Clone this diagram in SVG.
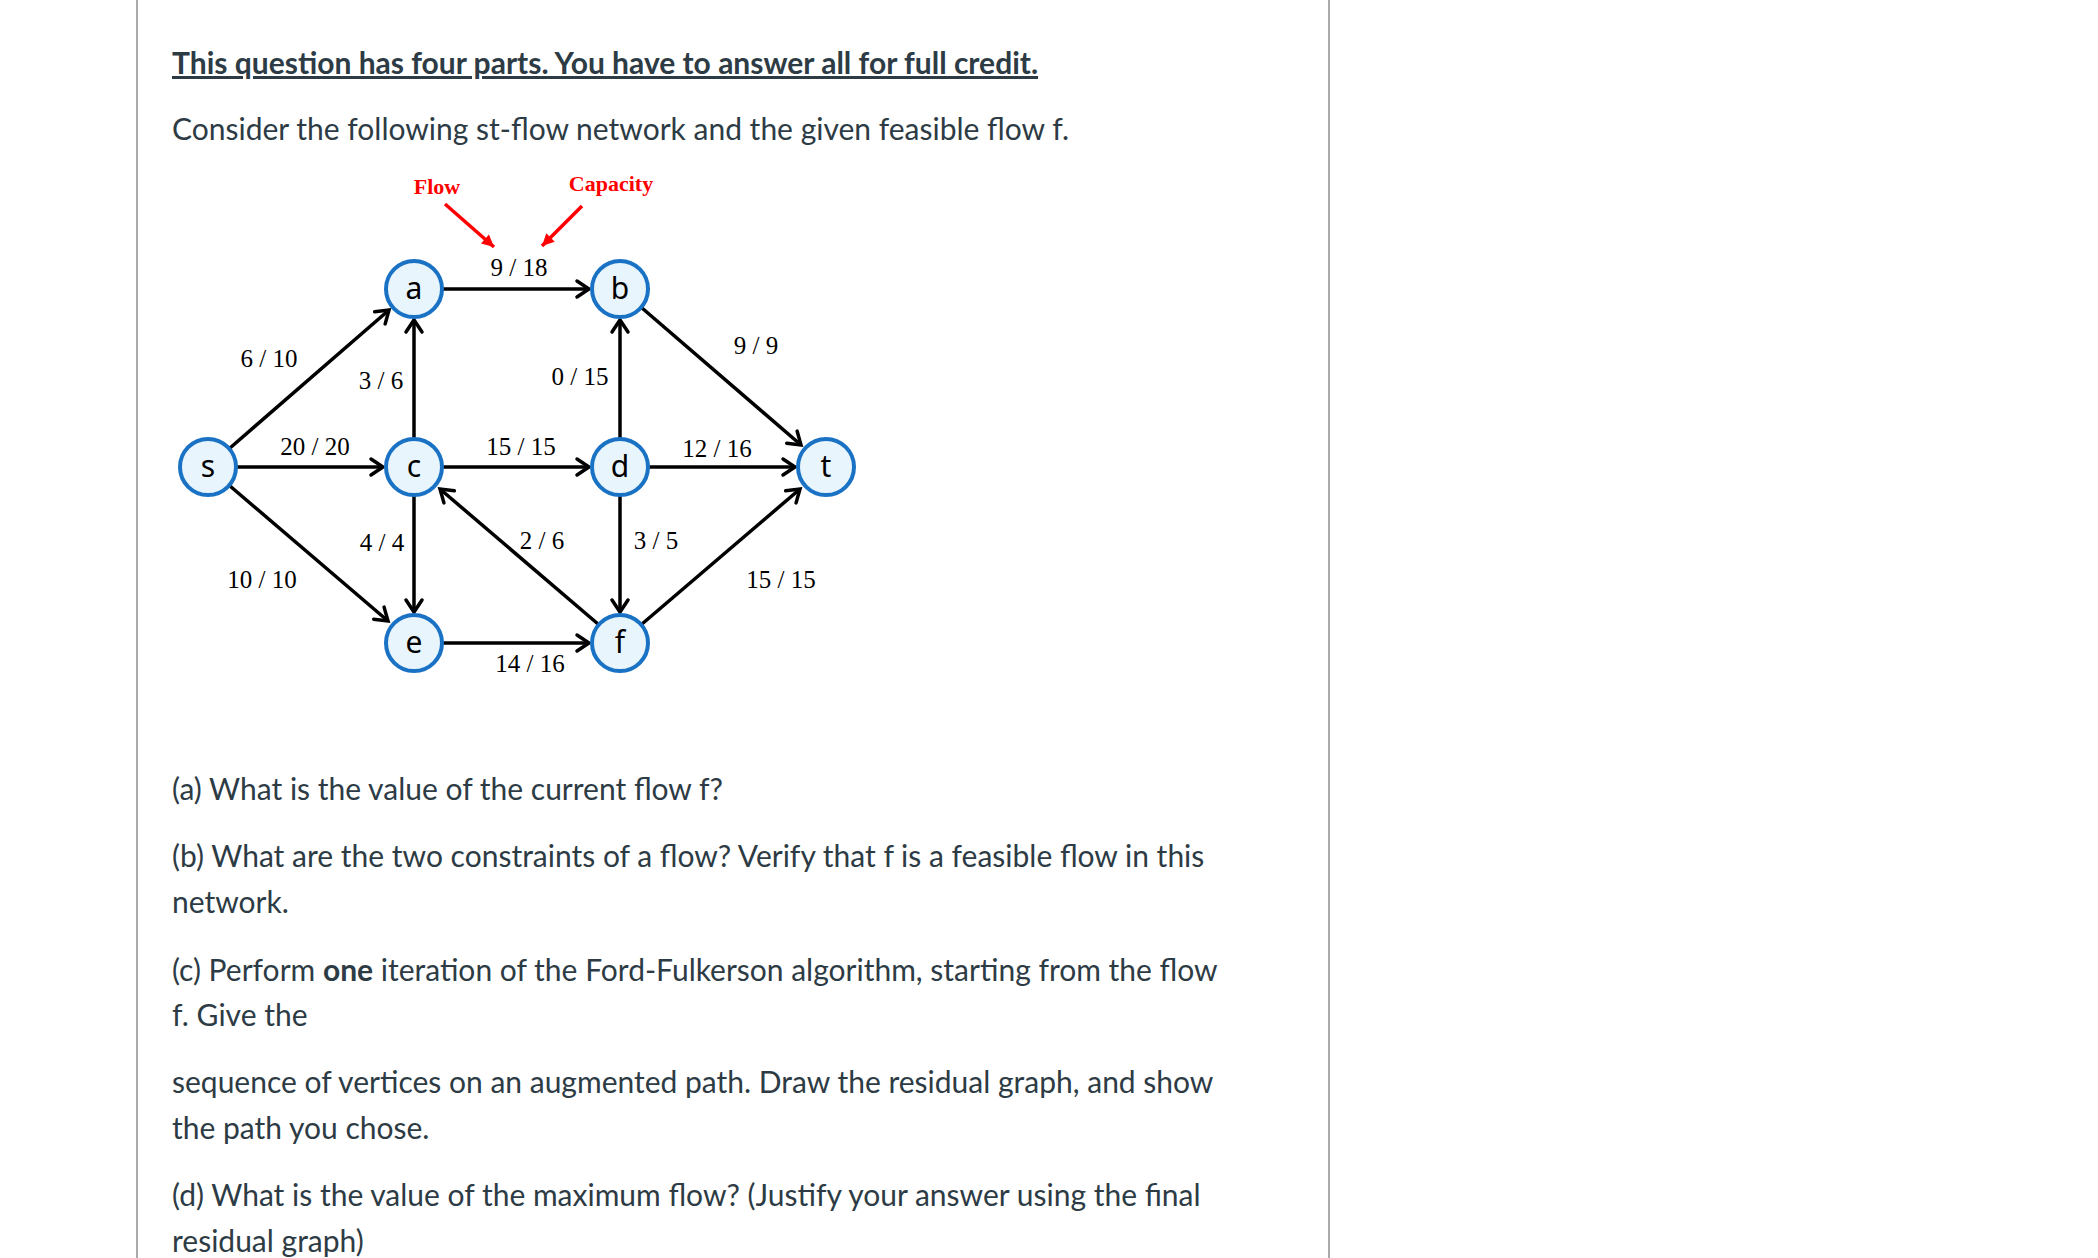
<svg xmlns="http://www.w3.org/2000/svg" width="2098" height="1258" viewBox="0 0 2098 1258">
<defs>
<marker id="ah" markerUnits="userSpaceOnUse" markerWidth="30" markerHeight="30" refX="0" refY="0" viewBox="-15 -15 30 30" orient="auto" overflow="visible"><path d="M-12,-8 L0,0 L-12,8" fill="none" stroke="#000" stroke-width="3.5" stroke-linecap="round"/></marker>
<marker id="rh" markerUnits="userSpaceOnUse" markerWidth="30" markerHeight="30" refX="0" refY="0" viewBox="-15 -15 30 30" orient="auto" overflow="visible"><path d="M-12,-6 L0,0 L-12,6 Z" fill="#f00"/></marker>
</defs>
<style>
.body{font-family:Lato,"Noto Sans",sans-serif;font-size:30px;fill:#2d3b45}
.lab{font-family:"Liberation Serif",serif;font-size:25px;fill:#000;text-anchor:middle}
.red{font-family:"Liberation Serif",serif;font-size:22px;font-weight:bold;fill:#f00;text-anchor:middle}
.e line{stroke:#000;stroke-width:3.5;marker-end:url(#ah)}
.n circle{fill:#e8f5fd;stroke:#1a72c4;stroke-width:4}
.n text{font-family:"Noto Sans","DejaVu Sans",sans-serif;font-size:30px;fill:#000;text-anchor:middle}
</style>
<rect width="2098" height="1258" fill="#fff"/>
<line x1="137" y1="0" x2="137" y2="1258" stroke="#aaa" stroke-width="2"/>
<line x1="1329" y1="0" x2="1329" y2="1258" stroke="#aaa" stroke-width="2"/>
<text x="172" y="74" class="body" font-weight="bold" text-decoration="underline">This question has four parts. You have to answer all for full credit. </text>
<text x="172" y="140" class="body">Consider the following st-flow network and the given feasible flow f.</text>
<text x="437" y="194" class="red">Flow</text>
<text x="611" y="191" class="red">Capacity</text>
<line x1="445" y1="204" x2="494" y2="247" stroke="#f00" stroke-width="3.5" marker-end="url(#rh)"/>
<line x1="582" y1="206" x2="542" y2="246" stroke="#f00" stroke-width="3.5" marker-end="url(#rh)"/>
<g id="edges" class="e">
<line x1="230" y1="448" x2="389" y2="310"/>
<line x1="230" y1="486" x2="388" y2="621"/>
<line x1="642" y1="308" x2="801" y2="445"/>
<line x1="642" y1="624" x2="800" y2="489"/>
<line x1="598" y1="624" x2="440" y2="489"/>
<line x1="443" y1="289" x2="589" y2="289"/>
<line x1="237" y1="467" x2="383" y2="467"/>
<line x1="443" y1="467" x2="589" y2="467"/>
<line x1="649" y1="467" x2="795" y2="467"/>
<line x1="443" y1="643" x2="589" y2="643"/>
<line x1="414" y1="438" x2="414" y2="320"/>
<line x1="620" y1="438" x2="620" y2="320"/>
<line x1="414" y1="496" x2="414" y2="612"/>
<line x1="620" y1="496" x2="620" y2="612"/>
</g>
<g id="labels">
<text x="519" y="276" class="lab">9 / 18</text>
<text x="269" y="367" class="lab">6 / 10</text>
<text x="381" y="389" class="lab">3 / 6</text>
<text x="580" y="385" class="lab">0 / 15</text>
<text x="756" y="354" class="lab">9 / 9</text>
<text x="315" y="455" class="lab">20 / 20</text>
<text x="521" y="455" class="lab">15 / 15</text>
<text x="717" y="457" class="lab">12 / 16</text>
<text x="382" y="551" class="lab">4 / 4</text>
<text x="542" y="549" class="lab">2 / 6</text>
<text x="656" y="549" class="lab">3 / 5</text>
<text x="262" y="588" class="lab">10 / 10</text>
<text x="781" y="588" class="lab">15 / 15</text>
<text x="530" y="672" class="lab">14 / 16</text>
</g>
<g id="s" class="n"><circle cx="208" cy="467" r="28"/><text x="208" y="477">s</text></g>
<g id="a" class="n"><circle cx="414" cy="289" r="28"/><text x="414" y="299">a</text></g>
<g id="b" class="n"><circle cx="620" cy="289" r="28"/><text x="620" y="299">b</text></g>
<g id="c" class="n"><circle cx="414" cy="467" r="28"/><text x="414" y="477">c</text></g>
<g id="d" class="n"><circle cx="620" cy="467" r="28"/><text x="620" y="477">d</text></g>
<g id="t" class="n"><circle cx="826" cy="467" r="28"/><text x="826" y="477">t</text></g>
<g id="e" class="n"><circle cx="414" cy="643" r="28"/><text x="414" y="653">e</text></g>
<g id="f" class="n"><circle cx="620" cy="643" r="28"/><text x="620" y="653">f</text></g>
<text x="172" y="800" class="body">(a) What is the value of the current flow f?</text>
<text x="172" y="867" class="body">(b) What are the two constraints of a flow? Verify that f is a feasible flow in this</text>
<text x="172" y="913" class="body">network.</text>
<text x="172" y="981" class="body">(c) Perform <tspan font-weight="bold">one</tspan> iteration of the Ford-Fulkerson algorithm, starting from the flow</text>
<text x="172" y="1026" class="body">f. Give the</text>
<text x="172" y="1093" class="body">sequence of vertices on an augmented path. Draw the residual graph, and show</text>
<text x="172" y="1139" class="body">the path you chose.</text>
<text x="172" y="1206" class="body">(d) What is the value of the maximum flow? (Justify your answer using the final</text>
<text x="172" y="1252" class="body">residual graph)</text>
</svg>
